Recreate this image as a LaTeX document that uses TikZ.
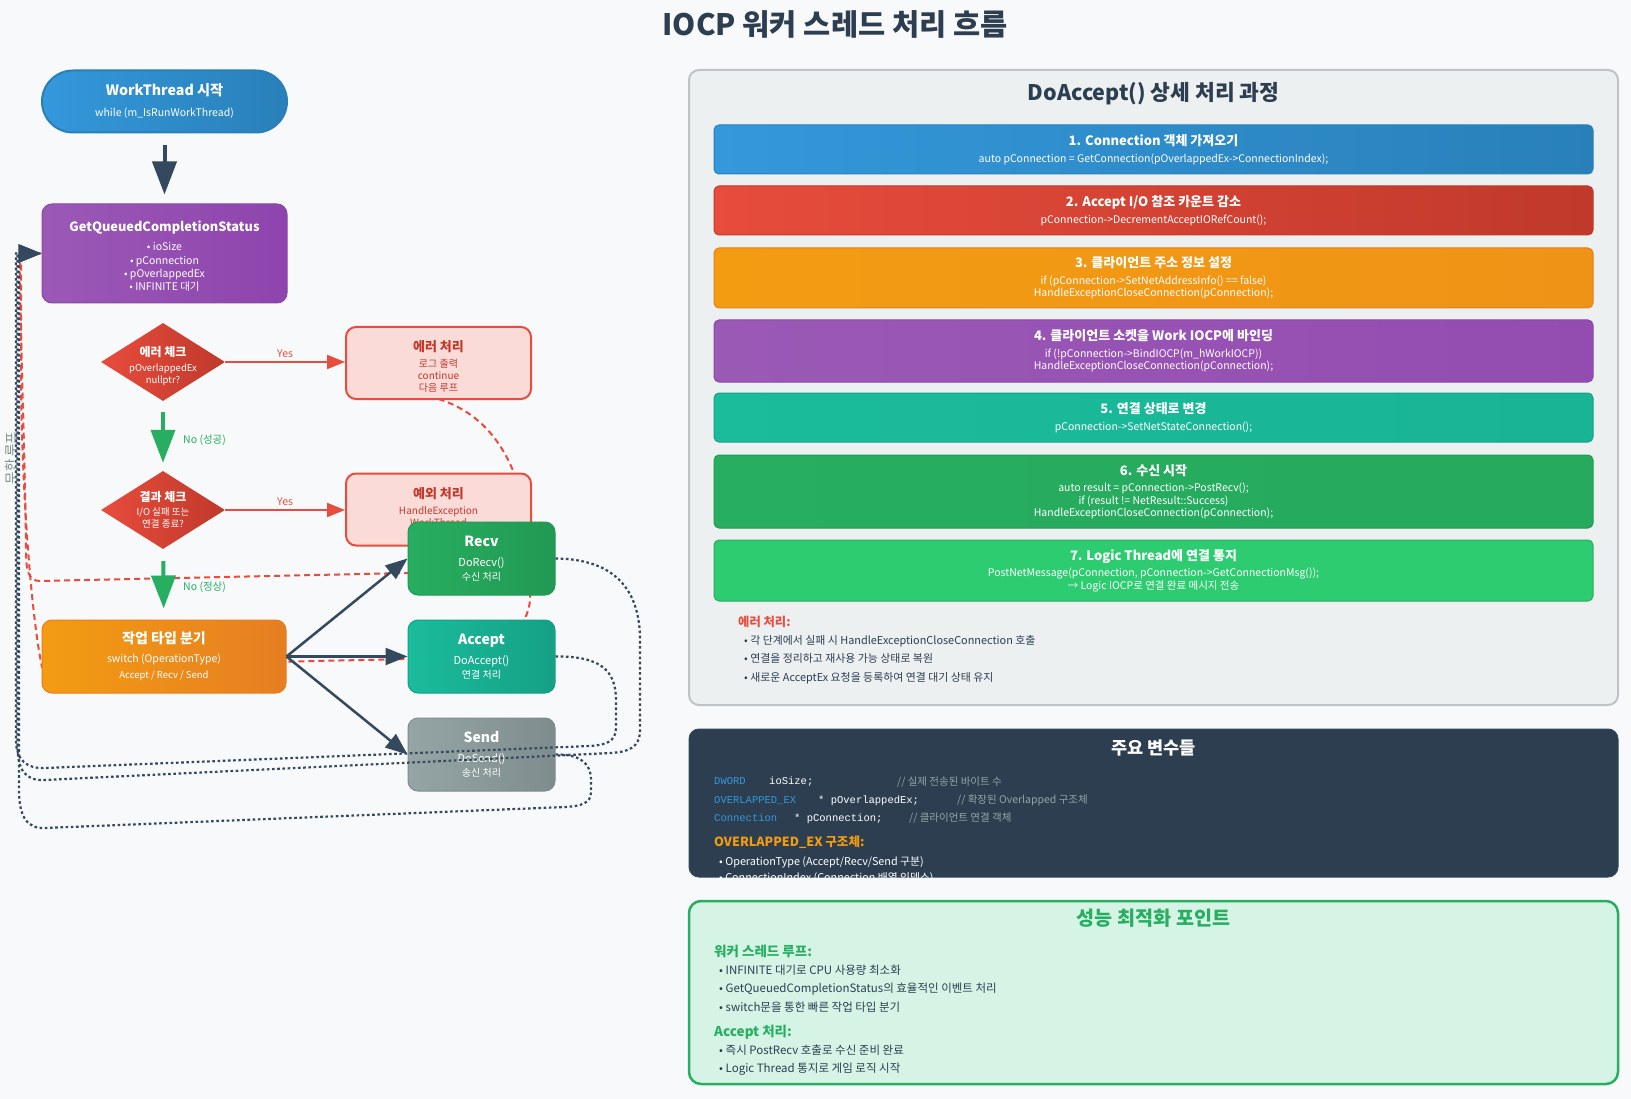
\documentclass[tikz,border=0pt]{standalone}
\usepackage{fontspec}
\setmainfont{Noto Sans CJK KR}
\newfontfamily\codefont{Liberation Mono}
\usetikzlibrary{arrows.meta,shapes.geometric,calc}

\definecolor{pagebg}{HTML}{F8F9FA}
\definecolor{ink}{HTML}{2C3E50}
\definecolor{slate}{HTML}{34495E}
\definecolor{blueA}{HTML}{3498DB}
\definecolor{blueB}{HTML}{2980B9}
\definecolor{redA}{HTML}{E74C3C}
\definecolor{redB}{HTML}{C0392B}
\definecolor{orgA}{HTML}{F39C12}
\definecolor{orgB}{HTML}{E67E22}
\definecolor{purA}{HTML}{9B59B6}
\definecolor{purB}{HTML}{8E44AD}
\definecolor{tealA}{HTML}{1ABC9C}
\definecolor{tealB}{HTML}{16A085}
\definecolor{grnA}{HTML}{27AE60}
\definecolor{grnB}{HTML}{229954}
\definecolor{lgrnA}{HTML}{2ECC71}
\definecolor{grayA}{HTML}{95A5A6}
\definecolor{grayB}{HTML}{7F8C8D}
\definecolor{pinkbg}{HTML}{FADBD8}
\definecolor{panelbg}{HTML}{ECF0F1}
\definecolor{panelline}{HTML}{BDC3C7}
\definecolor{mintbg}{HTML}{D5F4E6}

\newcommand{\fsz}[2]{\fontsize{#1}{#2}\selectfont}

\tikzset{
  box/.style={rounded corners=10pt, inner sep=0pt, align=center, text=white},
  flowbox/.style={box, minimum width=147pt, minimum height=73pt, line width=1pt,
    font=\fsz{10}{14.3}},
  errbox/.style={box, minimum width=185pt, minimum height=72pt, fill=pinkbg,
    draw=redA, line width=2pt},
  errtext/.style={align=center, inner sep=0pt, text=redB, font=\fsz{10}{12}},
  check/.style={diamond, minimum width=124pt, minimum height=78pt, inner sep=0pt,
    left color=redA, right color=redB},
  checktext/.style={align=center, text=white, font=\fsz{9.5}{12}, inner sep=0pt},
  stepbox/.style={rounded corners=5pt, inner sep=0pt, align=center, text=white,
    minimum width=879pt, line width=1pt, font=\fsz{10.5}{12.5}},
  fatarrow/.style={line width=4pt, -{Triangle[length=33pt,width=24pt]}},
  yesarrow/.style={line width=2pt, draw=redA, -{Triangle[length=18pt,width=14pt]}},
  brarrow/.style={line width=2.5pt, draw=slate, -{Triangle[length=22pt,width=17pt]}},
  redloop/.style={draw=redA, line width=2pt, dash pattern=on 6pt off 4pt},
  loopline/.style={draw=slate, line width=2.2pt, dash pattern=on 2.6pt off 2.6pt,
    -{Triangle[length=23pt,width=18pt]}},
  lbl/.style={inner sep=0pt, font=\fsz{10.5}{12}},
  leftline/.style={anchor=west, inner sep=0pt},
  baseline/.style={anchor=base west, inner sep=0pt},
}

\begin{document}
\begin{tikzpicture}[x=1pt, y=-1pt]
\useasboundingbox[fill=pagebg] (0,0) rectangle (1631,1099);

% heading
\node[text=ink, font=\fsz{29.5}{33}\bfseries, inner sep=0pt] (title) at (835,24.5) {IOCP 워커 스레드 처리 흐름};

% ---------- loop-back paths that run behind the boxes ----------
\coordinate (gqin) at (42,253.5);
\draw[redloop] (438.5,399) .. controls (505,420) and (535,490) .. (530,600)
  .. controls (527,640) and (480,657) .. (408,659) -- (42,667)
  .. controls (32,620) and (22,500) .. (21,380) -- (21,253.5) -- (gqin);
\draw[redloop] (438.5,546) .. controls (430,560) and (420,572) .. (408,573) -- (40,581)
  .. controls (28,581) and (26,570) .. (26,550)
  .. controls (25,450) and (20,330) .. (20,262) -- (20,253.5) -- (gqin);

% ---------- flow boxes ----------
\node[box, minimum width=245pt, minimum height=62pt, rounded corners=31pt,
  left color=blueA, right color=blueB, draw=blueB, line width=2pt,
  font=\fsz{10.5}{13}] (start) at (164.5,101.5)
  {{\fsz{14.2}{17}\bfseries WorkThread 시작}\\[8pt]while (m\_IsRunWorkThread)};

\node[box, minimum width=245pt, minimum height=99pt, left color=purA, right color=purB,
  draw=purB, line width=1pt] (gq) at (164.5,253.5) {};
\node[align=center, inner sep=0pt, text=white, font=\fsz{10.5}{13.2}] (gqt) at (164.5,256)
  {{\fsz{12.8}{16}\bfseries GetQueuedCompletionStatus}\\[6.3pt]• ioSize\\• pConnection\\• pOverlappedEx\\• INFINITE 대기};

\node[check] (chk1) at (163,362) {};
\node[checktext] (chk1t) at (163,366) {{\fsz{12}{14}\bfseries 에러 체크}\\[2.5pt]pOverlappedEx\\nullptr?};

\node[check] (chk2) at (163,510) {};
\node[checktext] (chk2t) at (163,510) {{\fsz{12}{14}\bfseries 결과 체크}\\[1.5pt]I/O 실패 또는\\연결 종료?};

\node[errbox] (err) at (438.5,363) {};
\node[errtext] (errt) at (438.5,366.5)
  {{\fsz{13}{15}\bfseries 에러 처리}\\[3.6pt]로그 출력\\continue\\다음 루프};

\node[errbox] (exc) at (438.5,509.5) {};
\node[errtext] (exct) at (438.5,513)
  {{\fsz{13}{15}\bfseries 예외 처리}\\[3.6pt]HandleException\\WorkThread\\\phantom{W}};

\node[box, minimum width=244pt, minimum height=73pt, left color=orgA, right color=orgB,
  draw=orgB, line width=1pt, font=\fsz{9.5}{16}] (branch) at (164,656.5)
  {{\fsz{14}{16}\bfseries 작업 타입 분기}\\[3.3pt]{\fsz{10.5}{12}switch (OperationType)}\\Accept / Recv / Send};

\node[flowbox, left color=grnA, right color=grnB, draw=grnB] (recv) at (481.5,558.5)
  {{\fsz{14}{16}\bfseries Recv}\\[5.4pt]{\fsz{11}{13}DoRecv()}\\수신 처리};
\node[flowbox, left color=tealA, right color=tealB, draw=tealB] (acc) at (481.5,656.5)
  {{\fsz{14}{16}\bfseries Accept}\\[5.4pt]{\fsz{11}{13}DoAccept()}\\연결 처리};
\node[flowbox, left color=grayA, right color=grayB, draw=grayB] (send) at (481.5,754.5)
  {{\fsz{14}{16}\bfseries Send}\\[5.4pt]{\fsz{11}{13}DoSend()}\\송신 처리};

% ---------- forward connectors ----------
\draw[fatarrow, draw=slate, shorten <=12pt, shorten >=9pt] (start) -- (gq);
\draw[yesarrow] (chk1.east) -- (chk1.east -| err.west)
  node[midway, above=3pt, lbl, text=redA] (yes1) {Yes};
\draw[yesarrow] (chk2.east) -- (chk2.east -| exc.west)
  node[midway, above=3pt, lbl, text=redA] (yes2) {Yes};
\draw[fatarrow, draw=grnA, shorten <=11pt, shorten >=8pt] (chk1) -- (chk2);
\node[lbl, anchor=west, text=grnA] (no1) at (183,440) {No (성공)};
\draw[fatarrow, draw=grnA, shorten <=12pt, shorten >=11pt] (chk2) -- (branch);
\node[lbl, anchor=west, text=grnA] (no2) at (183,587) {No (정상)};

\draw[brarrow] (branch.east) -- (recv.west);
\draw[brarrow] (branch.east) -- (acc.west);
\draw[brarrow] (branch.east) -- (send.west);

% ---------- handlers return to the wait call ----------
\draw[loopline] (recv.east) .. controls (615,559) and (640,590) .. (640,640) -- (640,730)
  .. controls (640,748) and (628,752) .. (610,753) -- (45,780)
  .. controls (25,781) and (17.5,770) .. (17.5,745) -- (17.5,253.5) -- (gq.west);
\draw[loopline] (acc.east) .. controls (600,656) and (616,670) .. (616,700) -- (616,728)
  .. controls (616,742) and (605,745) .. (590,746) -- (45,768)
  .. controls (27,769) and (16,760) .. (16,740) -- (16,253.5) -- (gq.west);
\draw[loopline] (send.east) .. controls (578,754) and (591,762) .. (591,780) -- (591,792)
  .. controls (591,803) and (582,806) .. (565,807) -- (45,828)
  .. controls (26,829) and (19,815) .. (19,790) -- (19,253.5) -- (gq.west);

\node[rotate=90, inner sep=0pt, text=grayB, font=\fsz{13.5}{15}] (looplbl) at (11.5,458) {무한 루프};

% ---------- DoAccept detail panel ----------
\node[rounded corners=10pt, fill=panelbg, draw=panelline, line width=2pt,
  minimum width=929pt, minimum height=635pt, inner sep=0pt] (detail) at (1153.5,387.5) {};
\node[text=ink, font=\fsz{21.5}{24}\bfseries, inner sep=0pt] (detailtitle) at (1153.5,94) {DoAccept() 상세 처리 과정};

\node[stepbox, minimum height=49pt, left color=blueA, right color=blueB, draw=blueB] (s1) at (1153.5,149.5)
  {{\fsz{13}{15}\bfseries 1. Connection 객체 가져오기}\\[4pt]auto pConnection = GetConnection(pOverlappedEx->ConnectionIndex);};
\node[stepbox, minimum height=49pt, left color=redA, right color=redB, draw=redB] (s2) at (1153.5,210.5)
  {{\fsz{13}{15}\bfseries 2. Accept I/O 참조 카운트 감소}\\[4pt]pConnection->DecrementAcceptIORefCount();};
\node[stepbox, minimum height=60pt, left color=orgA, right color=orgA!70!orgB, draw=orgB] (s3) at (1153.5,278)
  {{\fsz{13}{15}\bfseries 3. 클라이언트 주소 정보 설정}\\[4pt]if (pConnection->SetNetAddressInfo() == false)\\HandleExceptionCloseConnection(pConnection);};
\node[stepbox, minimum height=62pt, left color=purA, right color=purB!60!purA, draw=purB] (s4) at (1153.5,351)
  {{\fsz{13}{15}\bfseries 4. 클라이언트 소켓을 Work IOCP에 바인딩}\\[4pt]if (!pConnection->BindIOCP(m\_hWorkIOCP))\\HandleExceptionCloseConnection(pConnection);};
\node[stepbox, minimum height=49pt, left color=tealA, right color=tealA!70!tealB, draw=tealB] (s5) at (1153.5,417.5)
  {{\fsz{13}{15}\bfseries 5. 연결 상태로 변경}\\[4pt]pConnection->SetNetStateConnection();};
\node[stepbox, minimum height=73pt, left color=grnA, right color=grnA!80!grnB, draw=grnB] (s6) at (1153.5,491.5)
  {{\fsz{13}{15}\bfseries 6. 수신 시작}\\[4pt]auto result = pConnection->PostRecv();\\if (result != NetResult::Success)\\HandleExceptionCloseConnection(pConnection);};
\node[stepbox, minimum height=61pt, fill=lgrnA, draw=grnA] (s7) at (1153.5,570.5)
  {{\fsz{13}{15}\bfseries 7. Logic Thread에 연결 통지}\\[4pt]PostNetMessage(pConnection, pConnection->GetConnectionMsg());\\→ Logic IOCP로 연결 완료 메시지 전송};

\node[baseline, text=redA, font=\fsz{12.3}{14}\bfseries] (errhead) at (738,626) {에러 처리:};
\node[baseline, text=ink, font=\fsz{10.9}{12}] (e1) at (744,644.5) {• 각 단계에서 실패 시 HandleExceptionCloseConnection 호출};
\node[baseline, text=ink, font=\fsz{10.9}{12}] (e2) at (744,662.5) {• 연결을 정리하고 재사용 가능 상태로 복원};
\node[baseline, text=ink, font=\fsz{10.9}{12}] (e3) at (744,681.5) {• 새로운 AcceptEx 요청을 등록하여 연결 대기 상태 유지};

% ---------- key variables panel ----------
\node[rounded corners=10pt, fill=ink, draw=slate, line width=1pt,
  minimum width=929pt, minimum height=148pt, inner sep=0pt] (vars) at (1153.5,803) {};
\node[text=white, font=\fsz{17.5}{20}\bfseries, inner sep=0pt] (varstitle) at (1153.5,748) {주요 변수들};
\begin{scope}
  \clip[rounded corners=10pt] (689,729) rectangle (1618,877);
  \node[baseline, text=blueA, font=\codefont\fsz{10.5}{12}] (v1a) at (714,784.5) {DWORD};
  \node[baseline, text=white, font=\codefont\fsz{10.5}{12}] (v1b) at (769,784.5) {ioSize;};
  \node[baseline, text=grayA, font=\fsz{10.5}{12}] (v1c) at (897,785) {// 실제 전송된 바이트 수};
  \node[baseline, text=blueA, font=\codefont\fsz{10.5}{12}] (v2a) at (714,803) {OVERLAPPED\_EX};
  \node[baseline, text=white, font=\codefont\fsz{10.5}{12}] (v2b) at (818,803) {* pOverlappedEx;};
  \node[baseline, text=grayA, font=\fsz{10.5}{12}] (v2c) at (957,803.5) {// 확장된 Overlapped 구조체};
  \node[baseline, text=blueA, font=\codefont\fsz{10.5}{12}] (v3a) at (714,821) {Connection};
  \node[baseline, text=white, font=\codefont\fsz{10.5}{12}] (v3b) at (794,821) {* pConnection;};
  \node[baseline, text=grayA, font=\fsz{10.5}{12}] (v3c) at (909,821.5) {// 클라이언트 연결 객체};
  \node[baseline, text=orgA, font=\fsz{12.6}{14}\bfseries] (v4) at (714,846.5) {OVERLAPPED\_EX 구조체:};
  \node[baseline, text=white, font=\fsz{10.8}{12}] (v5) at (719,865) {• OperationType (Accept/Recv/Send 구분)};
  \node[baseline, text=white, font=\fsz{10.8}{12}] (v6) at (719,881.5) {• ConnectionIndex (Connection 배열 인덱스)};
\end{scope}

% ---------- performance panel ----------
\node[rounded corners=12pt, fill=mintbg, draw=grnA, line width=2.5pt,
  minimum width=929pt, minimum height=183pt, inner sep=0pt] (perf) at (1153.5,992.5) {};
\node[text=grnA, font=\fsz{19.6}{22}\bfseries, inner sep=0pt] (perftitle) at (1153.5,918) {성능 최적화 포인트};
\node[baseline, text=grnA, font=\fsz{13.5}{15}\bfseries] (p0) at (714,956) {워커 스레드 루프:};
\node[baseline, text=ink, font=\fsz{11.5}{13}] (p1) at (719,974.5) {• INFINITE 대기로 CPU 사용량 최소화};
\node[baseline, text=ink, font=\fsz{11.5}{13}] (p2) at (719,992.5) {• GetQueuedCompletionStatus의 효율적인 이벤트 처리};
\node[baseline, text=ink, font=\fsz{11.5}{13}] (p3) at (719,1011) {• switch문을 통한 빠른 작업 타입 분기};
\node[baseline, text=grnA, font=\fsz{13.5}{15}\bfseries] (p4) at (714,1036) {Accept 처리:};
\node[baseline, text=ink, font=\fsz{11.5}{13}] (p5) at (719,1054) {• 즉시 PostRecv 호출로 수신 준비 완료};
\node[baseline, text=ink, font=\fsz{11.5}{13}] (p6) at (719,1072) {• Logic Thread 통지로 게임 로직 시작};

\end{tikzpicture}
\end{document}
